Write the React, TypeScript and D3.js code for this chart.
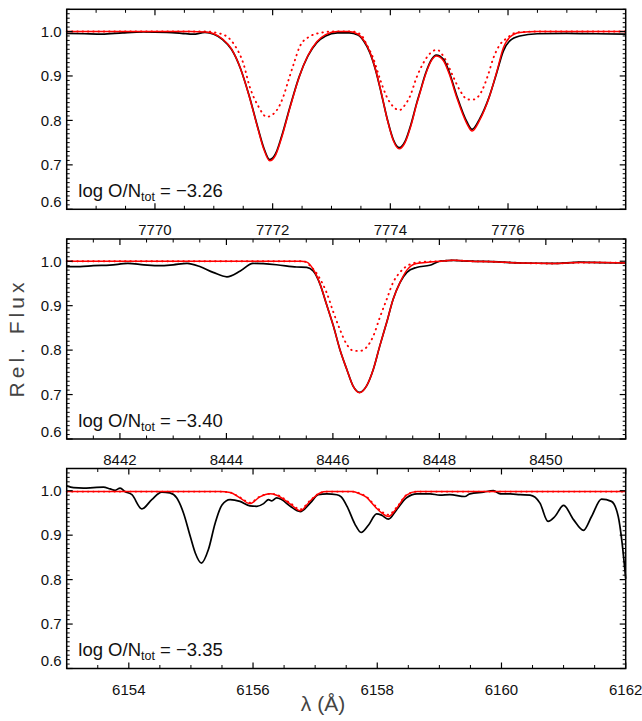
import React from 'react'
import * as d3 from 'd3'

type Pt = [number, number]

// O I 7772-7775 triplet
const obs7772: Pt[] = [
  [7768.5, 0.996], [7768.8, 0.995], [7769.1, 0.994], [7769.45, 0.997], [7769.8, 0.999],
  [7770.2, 0.998], [7770.45, 0.996], [7770.65, 0.994], [7770.85, 0.998], [7771.0, 0.994],
  [7771.15, 0.982], [7771.3, 0.960], [7771.45, 0.918], [7771.6, 0.856], [7771.75, 0.783],
  [7771.85, 0.738], [7771.95, 0.712], [7772.05, 0.725], [7772.15, 0.763], [7772.3, 0.833],
  [7772.45, 0.898], [7772.6, 0.945], [7772.75, 0.975], [7772.9, 0.990], [7773.1, 0.997],
  [7773.3, 0.997], [7773.45, 0.992], [7773.55, 0.978], [7773.65, 0.953], [7773.75, 0.913],
  [7773.85, 0.859], [7773.95, 0.802], [7774.05, 0.757], [7774.15, 0.739], [7774.25, 0.753],
  [7774.35, 0.791], [7774.45, 0.840], [7774.5, 0.862], [7774.6, 0.906], [7774.7, 0.937],
  [7774.78, 0.947], [7774.9, 0.938], [7775.0, 0.909], [7775.13, 0.855], [7775.3, 0.797],
  [7775.39, 0.780], [7775.52, 0.804], [7775.68, 0.853], [7775.81, 0.908], [7775.92, 0.956],
  [7776.03, 0.979], [7776.2, 0.990], [7776.5, 0.995], [7777.0, 0.996], [7777.5, 0.995],
  [7778.0, 0.994],
]
const fit7772: Pt[] = [
  [7768.5, 1.0], [7770.6, 1.0], [7770.85, 0.999], [7771.0, 0.995], [7771.15, 0.983],
  [7771.3, 0.961], [7771.45, 0.918], [7771.6, 0.855], [7771.75, 0.781], [7771.85, 0.735],
  [7771.95, 0.709], [7772.05, 0.722], [7772.15, 0.760], [7772.3, 0.831], [7772.45, 0.897],
  [7772.6, 0.946], [7772.75, 0.977], [7772.9, 0.993], [7773.1, 1.0], [7773.3, 1.0],
  [7773.45, 0.994], [7773.55, 0.980], [7773.65, 0.955], [7773.75, 0.914], [7773.85, 0.860],
  [7773.95, 0.801], [7774.05, 0.755], [7774.15, 0.736], [7774.25, 0.750], [7774.35, 0.788],
  [7774.45, 0.838], [7774.5, 0.860], [7774.6, 0.904], [7774.7, 0.935], [7774.78, 0.945],
  [7774.9, 0.935], [7775.0, 0.905], [7775.13, 0.851], [7775.3, 0.793], [7775.39, 0.776],
  [7775.52, 0.801], [7775.68, 0.852], [7775.81, 0.910], [7775.92, 0.963], [7776.03, 0.987],
  [7776.2, 0.998], [7776.5, 1.0], [7778.0, 1.0],
]
const weak7772: Pt[] = [
  [7768.5, 1.0], [7770.9, 1.0], [7771.05, 0.997], [7771.22, 0.989], [7771.35, 0.970],
  [7771.5, 0.929], [7771.61, 0.876], [7771.76, 0.831], [7771.9, 0.808], [7772.07, 0.823],
  [7772.18, 0.853], [7772.27, 0.891], [7772.38, 0.936], [7772.46, 0.966], [7772.63, 0.989],
  [7772.85, 0.998], [7773.0, 1.0], [7773.35, 1.0], [7773.5, 0.993], [7773.6, 0.970],
  [7773.71, 0.940], [7773.82, 0.895], [7773.94, 0.853], [7774.05, 0.831], [7774.15, 0.823],
  [7774.25, 0.835], [7774.33, 0.853], [7774.45, 0.898], [7774.56, 0.929], [7774.67, 0.950],
  [7774.79, 0.959], [7774.93, 0.938], [7775.07, 0.898], [7775.18, 0.868], [7775.32, 0.847],
  [7775.41, 0.847], [7775.55, 0.865], [7775.66, 0.902], [7775.75, 0.940], [7775.86, 0.970],
  [7775.98, 0.985], [7776.15, 0.998], [7776.5, 1.0], [7778.0, 1.0],
]

// O I 8446
const obs8446: Pt[] = [
  [8441.0, 0.988], [8441.25, 0.988], [8441.5, 0.990], [8441.81, 0.991], [8442.15, 0.995],
  [8442.45, 0.992], [8442.75, 0.990], [8443.0, 0.992], [8443.26, 0.995], [8443.5, 0.988],
  [8443.75, 0.975], [8444.01, 0.965], [8444.26, 0.978], [8444.5, 0.995], [8444.94, 0.992],
  [8445.32, 0.987], [8445.51, 0.986], [8445.63, 0.978], [8445.76, 0.948], [8445.88, 0.903],
  [8446.01, 0.854], [8446.13, 0.802], [8446.26, 0.757], [8446.38, 0.719], [8446.5, 0.705],
  [8446.63, 0.719], [8446.76, 0.757], [8446.88, 0.809], [8447.01, 0.862], [8447.13, 0.914],
  [8447.26, 0.952], [8447.39, 0.975], [8447.57, 0.986], [8447.82, 0.991], [8448.01, 1.0],
  [8448.26, 1.002], [8448.58, 1.0], [8449.01, 0.999], [8449.52, 0.996], [8450.14, 0.995],
  [8450.64, 0.998], [8451.02, 0.997], [8451.5, 0.996],
]
const fit8446: Pt[] = [
  [8441.0, 1.0], [8445.4, 1.0], [8445.51, 0.998], [8445.63, 0.982], [8445.76, 0.948],
  [8445.88, 0.903], [8446.01, 0.854], [8446.13, 0.802], [8446.26, 0.757], [8446.38, 0.719],
  [8446.5, 0.704], [8446.63, 0.719], [8446.76, 0.757], [8446.88, 0.809], [8447.01, 0.862],
  [8447.13, 0.914], [8447.26, 0.952], [8447.39, 0.980], [8447.57, 0.995], [8447.82, 0.998],
  [8448.01, 1.0], [8448.26, 1.002], [8448.58, 1.0], [8449.01, 0.999], [8449.52, 0.996],
  [8450.14, 0.995], [8450.64, 0.997], [8451.02, 0.997], [8451.5, 0.996],
]
const weak8446: Pt[] = [
  [8441.0, 1.0], [8445.45, 1.0], [8445.57, 0.990], [8445.76, 0.960], [8445.88, 0.930],
  [8446.01, 0.885], [8446.13, 0.847], [8446.26, 0.813], [8446.38, 0.799], [8446.5, 0.798],
  [8446.63, 0.806], [8446.76, 0.832], [8446.88, 0.873], [8447.01, 0.914], [8447.13, 0.952],
  [8447.26, 0.975], [8447.45, 0.993], [8447.63, 0.998], [8448.01, 1.0], [8448.26, 1.002],
  [8448.58, 1.0], [8449.01, 0.999], [8449.52, 0.996], [8450.14, 0.995], [8450.64, 0.997],
  [8451.02, 0.997], [8451.5, 0.996],
]

// O I 6156-6158
const obs6158: Pt[] = [
  [6153.0, 1.011], [6153.11, 1.007], [6153.27, 1.006], [6153.43, 1.007], [6153.59, 1.008],
  [6153.7, 1.004], [6153.78, 1.001], [6153.86, 1.006], [6153.94, 0.998], [6154.05, 0.991],
  [6154.21, 0.959], [6154.37, 0.980], [6154.53, 0.997], [6154.66, 0.995], [6154.77, 0.984],
  [6154.88, 0.950], [6154.99, 0.897], [6155.07, 0.860], [6155.17, 0.837], [6155.28, 0.867],
  [6155.39, 0.927], [6155.5, 0.968], [6155.63, 0.980], [6155.79, 0.976], [6155.95, 0.966],
  [6156.06, 0.965], [6156.17, 0.971], [6156.25, 0.980], [6156.3, 0.977], [6156.38, 0.984],
  [6156.46, 0.980], [6156.6, 0.965], [6156.76, 0.953], [6156.92, 0.972], [6157.05, 0.991],
  [6157.19, 0.993], [6157.35, 0.991], [6157.42, 0.986], [6157.52, 0.963], [6157.64, 0.925],
  [6157.74, 0.906], [6157.86, 0.923], [6157.99, 0.948], [6158.07, 0.945], [6158.18, 0.936],
  [6158.31, 0.957], [6158.47, 0.984], [6158.64, 0.993], [6158.85, 0.993], [6159.01, 0.990],
  [6159.17, 0.991], [6159.41, 0.987], [6159.49, 0.993], [6159.71, 0.997], [6159.87, 1.0],
  [6159.98, 0.993], [6160.14, 0.993], [6160.3, 0.991], [6160.46, 0.990], [6160.62, 0.972],
  [6160.75, 0.931], [6160.86, 0.942], [6161.0, 0.967], [6161.16, 0.935], [6161.32, 0.911],
  [6161.45, 0.942], [6161.61, 0.981], [6161.77, 0.976], [6161.88, 0.942], [6161.94, 0.885],
  [6162.0, 0.802],
]
const fit6158: Pt[] = [
  [6153.0, 0.998], [6155.47, 0.998], [6155.63, 0.996], [6155.79, 0.984], [6155.95, 0.971],
  [6156.11, 0.986], [6156.27, 0.993], [6156.38, 0.990], [6156.6, 0.970], [6156.76, 0.955],
  [6156.92, 0.977], [6157.08, 0.995], [6157.19, 0.998], [6157.6, 0.998], [6157.72, 0.993],
  [6157.83, 0.985], [6157.94, 0.968], [6158.07, 0.950], [6158.18, 0.942], [6158.31, 0.960],
  [6158.47, 0.990], [6158.64, 0.998], [6162.0, 0.998],
]
const weak6158: Pt[] = [
  [6153.0, 0.998], [6155.47, 0.998], [6155.63, 0.996], [6155.79, 0.985], [6155.95, 0.973],
  [6156.11, 0.987], [6156.27, 0.993], [6156.38, 0.991], [6156.6, 0.972], [6156.76, 0.958],
  [6156.92, 0.978], [6157.08, 0.995], [6157.19, 0.998], [6157.6, 0.998], [6157.72, 0.994],
  [6157.83, 0.986], [6157.94, 0.970], [6158.07, 0.953], [6158.18, 0.946], [6158.31, 0.962],
  [6158.47, 0.990], [6158.64, 0.998], [6162.0, 0.998],
]

const ticks7772 = [7770, 7772, 7774, 7776]
const ticks8446 = [8442, 8444, 8446, 8448, 8450]
const ticks6158 = [6154, 6156, 6158, 6160, 6162]
const fluxTicks = [0.6, 0.7, 0.8, 0.9, 1.0]
const abundances = ['3.26', '3.40', '3.35']

const W = 642
const H = 721
const LEFT = 66.7
const RIGHT = 625.7
const PH = 200
const FONT = '"Liberation Sans", Arial, Helvetica, sans-serif'

const panels = [
  { top: 9.3, domain: [7768.5, 7778.0], ticks: ticks7772, obs: obs7772, fit: fit7772, weak: weak7772, abund: abundances[0] },
  { top: 239.0, domain: [8441.0, 8451.5], ticks: ticks8446, obs: obs8446, fit: fit8446, weak: weak8446, abund: abundances[1] },
  { top: 468.5, domain: [6153.0, 6162.0], ticks: ticks6158, obs: obs6158, fit: fit6158, weak: weak6158, abund: abundances[2] },
]

function Panel({ top, domain, ticks, obs, fit, weak, abund }: any) {
  const bottom = top + PH
  const x = d3.scaleLinear().domain(domain).range([LEFT, RIGHT])
  const y = d3.scaleLinear().domain([0.6, 1.05]).range([bottom, top])
  const line = d3.line<Pt>().x(d => x(d[0])).y(d => y(d[1])).curve(d3.curveMonotoneX)

  const xMinor = d3.range(Math.ceil(domain[0] * 2) / 2, domain[1] + 1e-6, 0.5)
    .filter(v => Math.abs(v - Math.round(v / 2) * 2) > 1e-6)
  const yMinor = d3.range(60, 106).map(i => i / 100).filter(v => Math.round(v * 100) % 10 !== 0)

  return (
    <g>
      {/* data */}
      <path d={line(weak) || ''} fill="none" stroke="#ff0000" strokeWidth={1.9}
        strokeDasharray="0.5 4.8" strokeLinecap="round" />
      <path d={line(obs) || ''} fill="none" stroke="#000" strokeWidth={1.7} />
      <path d={line(fit) || ''} fill="none" stroke="#ff0000" strokeWidth={1.5} />

      {/* x ticks top and bottom */}
      {xMinor.map(v => (
        <g key={'xm' + v}>
          <line x1={x(v)} x2={x(v)} y1={bottom} y2={bottom - 3.5} stroke="#000" strokeWidth={1} />
          <line x1={x(v)} x2={x(v)} y1={top} y2={top + 3.5} stroke="#000" strokeWidth={1} />
        </g>
      ))}
      {ticks.map((v: number) => (
        <g key={'xt' + v}>
          <line x1={x(v)} x2={x(v)} y1={bottom} y2={bottom - 6} stroke="#000" strokeWidth={1.2} />
          <line x1={x(v)} x2={x(v)} y1={top} y2={top + 6} stroke="#000" strokeWidth={1.2} />
          <text x={x(v)} y={bottom + 26} textAnchor="middle" fontSize={15} fontFamily={FONT} fill="#111">{v}</text>
        </g>
      ))}

      {/* y ticks left and right */}
      {yMinor.map(v => (
        <g key={'ym' + v}>
          <line x1={LEFT} x2={LEFT + 3} y1={y(v)} y2={y(v)} stroke="#000" strokeWidth={1} />
          <line x1={RIGHT} x2={RIGHT - 3} y1={y(v)} y2={y(v)} stroke="#000" strokeWidth={1} />
        </g>
      ))}
      {fluxTicks.map(v => (
        <g key={'yt' + v}>
          <line x1={LEFT} x2={LEFT + 6} y1={y(v)} y2={y(v)} stroke="#000" strokeWidth={1.2} />
          <line x1={RIGHT} x2={RIGHT - 6} y1={y(v)} y2={y(v)} stroke="#000" strokeWidth={1.2} />
          <text x={LEFT - 5} y={Math.min(y(v), bottom - 7.5) + 5.3} textAnchor="end"
            fontSize={15} fontFamily={FONT} fill="#111">{v.toFixed(1)}</text>
        </g>
      ))}

      <rect x={LEFT} y={top} width={RIGHT - LEFT} height={PH} fill="none" stroke="#000" strokeWidth={1.5} />

      <text x={78.3} y={bottom - 12.5} fontSize={18.5} fontFamily={FONT} fill="#111">
        log O/N<tspan fontSize={12.5} dy={4}>tot</tspan><tspan dy={-4}> = −{abund}</tspan>
      </text>
    </g>
  )
}

export default function App() {
  return (
    <div>
      <style>{'body{margin:0}'}</style>
      <svg width={W} height={H} style={{ display: 'block', background: '#fff' }}>
        {panels.map((p, i) => <Panel key={i} {...p} />)}
        <text transform="translate(24,340) rotate(-90)" textAnchor="middle" fontSize={21}
          fontFamily={FONT} fill="#444" textLength={115} lengthAdjust="spacing">Rel. Flux</text>
        <text x={323} y={711} textAnchor="middle" fontSize={21} fontFamily={FONT} fill="#444">λ (Å)</text>
      </svg>
    </div>
  )
}
